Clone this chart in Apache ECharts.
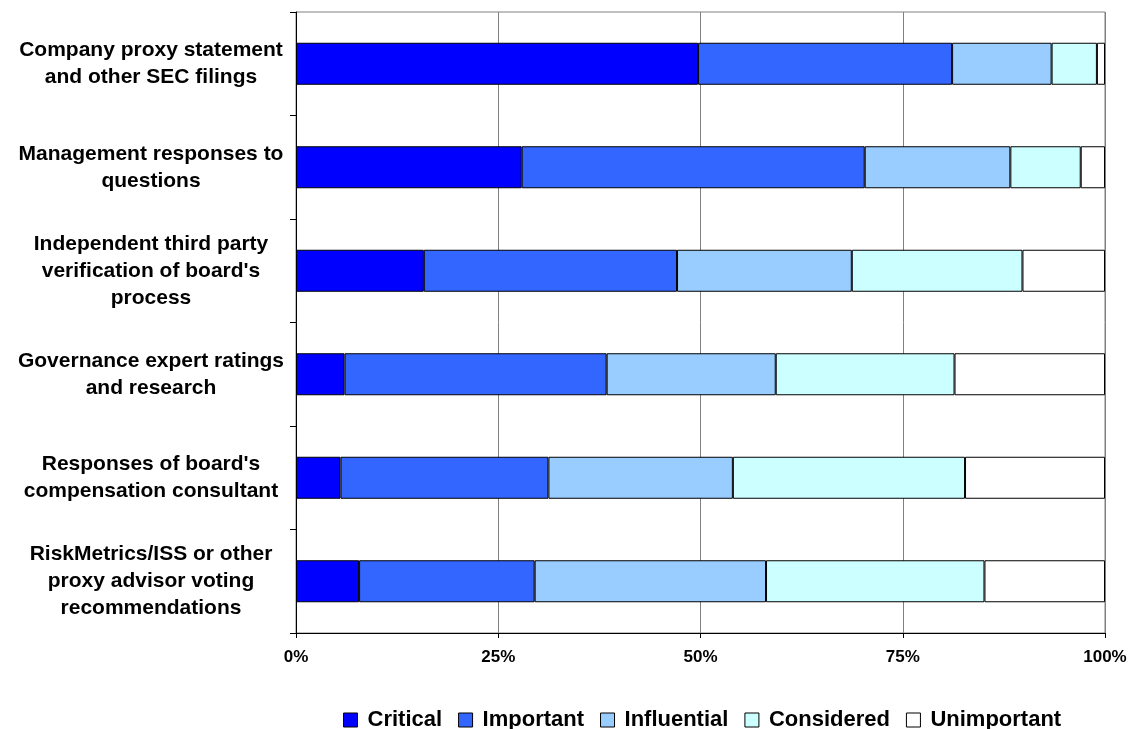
<!DOCTYPE html>
<html>
<head>
<meta charset="utf-8">
<style>
  html, body { margin: 0; padding: 0; background: #fff; }
  #chart { width: 1134px; height: 729px; }
</style>
<script src="https://cdn.jsdelivr.net/npm/echarts@6/dist/echarts.min.js"></script>
</head>
<body>
<div id="chart"></div>
<script>
// categories, top to bottom
const categories = [
  'Company proxy statement\nand other SEC filings',
  'Management responses to\nquestions',
  "Independent third party\nverification of board's\nprocess",
  'Governance expert ratings\nand research',
  "Responses of board's\ncompensation consultant",
  'RiskMetrics/ISS or other\nproxy advisor voting\nrecommendations'
]

// share of respondents (%) per rating
const critical    = [49.7, 27.9, 15.8, 6.0, 5.5, 7.8]
const important   = [31.4, 42.4, 31.3, 32.4, 25.7, 21.7]
const influential = [12.3, 18.0, 21.6, 20.9, 22.8, 28.6]
const considered  = [5.6, 8.7, 21.1, 22.1, 28.7, 27.0]
const unimportant = [1.0, 3.0, 10.2, 18.6, 17.3, 14.9]

const seriesNames = ['Critical', 'Important', 'Influential', 'Considered', 'Unimportant']
const seriesData = [critical, important, influential, considered, unimportant]
const colors = ['#0000FF', '#3366FF', '#99CCFF', '#CCFFFF', '#FFFFFF']

const font = 'Arial, "Liberation Sans", sans-serif'

const chart = echarts.init(document.getElementById('chart'))

const option = {
  animation: false,
  grid: {
    left: 296,
    right: 29,
    top: 12,
    bottom: 96,
    show: true,
    borderColor: '#808080',
    borderWidth: 1
  },
  legend: {
    left: 338,
    top: 704,
    itemWidth: 14,
    itemHeight: 14,
    itemGap: 16,
    icon: 'rect',
    data: seriesNames,
    itemStyle: { borderColor: '#000', borderWidth: 1 },
    textStyle: {
      fontFamily: font,
      fontWeight: 'bold',
      fontSize: 22,
      color: '#000',
      padding: [0, 0, 0, 5]
    }
  },
  xAxis: {
    type: 'value',
    min: 0,
    max: 100,
    interval: 25,
    axisLine: { show: true, lineStyle: { color: '#000', width: 1 } },
    axisTick: { show: true, length: 5, lineStyle: { color: '#000' } },
    axisLabel: {
      formatter: '{value}%',
      margin: 16,
      fontFamily: font,
      fontWeight: 'bold',
      fontSize: 17,
      color: '#000'
    },
    splitLine: { show: true, lineStyle: { color: '#808080', width: 1 } }
  },
  yAxis: {
    type: 'category',
    inverse: true,
    data: categories,
    axisLine: { show: true, lineStyle: { color: '#000', width: 1 } },
    axisTick: { show: true, length: 6, lineStyle: { color: '#000' } },
    axisLabel: {
      align: 'center',
      margin: 145,
      fontFamily: font,
      fontWeight: 'bold',
      fontSize: 21,
      lineHeight: 27,
      color: '#000'
    }
  },
  series: seriesNames.map((name, i) => ({
    name: name,
    type: 'bar',
    stack: 'total',
    barWidth: 42,
    data: seriesData[i],
    itemStyle: {
      color: colors[i],
      borderColor: '#000',
      borderWidth: 1
    }
  }))
}

chart.setOption(option)
</script>
</body>
</html>
